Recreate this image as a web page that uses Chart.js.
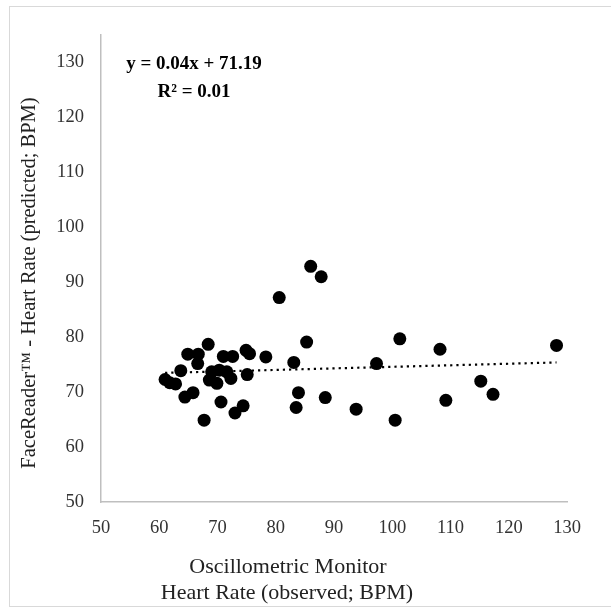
<!DOCTYPE html>
<html>
<head>
<meta charset="utf-8">
<script src="https://cdn.jsdelivr.net/npm/chart.js@4"></script>
<style>
  html, body { margin: 0; padding: 0; background: #fff; }
  #wrap { width: 611px; height: 615px; position: relative; }
</style>
</head>
<body>
<div id="wrap"><canvas id="c" width="611" height="615"></canvas></div>
<script>
// Observed heart rate (oscillometric monitor, BPM)
const observedHR = [61.0, 61.8, 62.8, 63.7, 64.4, 65.8, 64.9, 66.7, 66.6, 67.7,
  68.4, 69.0, 70.3, 68.6, 69.9, 70.6, 71.0, 71.6, 72.3, 72.6,
  73.0, 74.4, 74.9, 75.5, 75.1, 78.3, 80.6, 83.1, 83.5, 83.9,
  85.3, 86.0, 87.8, 88.5, 93.8, 97.3, 100.5, 101.3, 108.2, 109.2,
  115.2, 117.3, 128.2];
// Predicted heart rate (FaceReader, BPM)
const predictedHR = [72.3, 71.7, 71.5, 73.9, 69.1, 69.9, 76.9, 76.9, 75.2, 64.9,
  78.7, 73.7, 74.0, 72.2, 71.6, 68.2, 76.5, 73.7, 72.5, 76.5,
  66.2, 67.5, 77.6, 77.0, 73.2, 76.4, 87.2, 75.4, 67.2, 69.9,
  79.1, 92.9, 91.0, 69.0, 66.9, 75.2, 64.9, 79.7, 77.8, 68.5,
  72.0, 69.6, 78.5];
// Linear trend line end points
const trendX = [61.0, 128.2];
const trendY = [73.5, 75.4];
// Axis ticks
const xTicks = [50, 60, 70, 80, 90, 100, 110, 120, 130];
const yTicks = [50, 60, 70, 80, 90, 100, 110, 120, 130];
const equationText = 'y = 0.04x + 71.19';
const r2Text = 'R² = 0.01';
const xTitleLines = ['Oscillometric Monitor', 'Heart Rate (observed; BPM)'];
const yTitleText = 'FaceReader™ - Heart Rate (predicted; BPM)';

const points = observedHR.map((x, i) => ({ x: x, y: predictedHR[i] }));
const trend = trendX.map((x, i) => ({ x: x, y: trendY[i] }));

const SERIF = '"Liberation Serif", "DejaVu Serif", serif';

const decor = {
  id: 'decor',
  beforeDraw(chart) {
    const ctx = chart.ctx;
    ctx.save();
    ctx.fillStyle = '#ffffff';
    ctx.fillRect(0, 0, chart.width, chart.height);
    ctx.strokeStyle = '#d9d9d9';
    ctx.lineWidth = 1;
    ctx.strokeRect(9.5, 6.5, 610, 600);
    ctx.restore();
  },
  afterDraw(chart) {
    const ctx = chart.ctx;
    ctx.save();
    ctx.fillStyle = '#222';
    ctx.textAlign = 'center';
    ctx.textBaseline = 'middle';
    ctx.font = '22px ' + SERIF;
    ctx.fillText(xTitleLines[0], 288, 567);
    ctx.fillText(xTitleLines[1], 287, 593);
    ctx.save();
    ctx.translate(30, 283);
    ctx.rotate(-Math.PI / 2);
    ctx.font = '20.5px ' + SERIF;
    ctx.fillText(yTitleText, 0, 0);
    ctx.restore();
    ctx.fillStyle = '#000';
    ctx.font = 'bold 19px ' + SERIF;
    ctx.fillText(equationText, 194, 64);
    ctx.fillText(r2Text, 194, 92);
    ctx.restore();
  }
};

new Chart(document.getElementById('c'), {
  type: 'scatter',
  data: {
    datasets: [
      {
        label: 'trend',
        data: trend,
        showLine: true,
        borderColor: '#000',
        borderWidth: 2.2,
        borderDash: [2.2, 4],
        pointRadius: 0,
        fill: false,
        order: 2
      },
      {
        label: 'HR',
        data: points,
        backgroundColor: '#000',
        borderColor: '#000',
        borderWidth: 0,
        pointRadius: 6.5,
        order: 1
      }
    ]
  },
  options: {
    responsive: false,
    animation: false,
    devicePixelRatio: 1,
    layout: { padding: { left: 0, right: 44, top: 35, bottom: 0 } },
    plugins: { legend: { display: false }, tooltip: { enabled: false } },
    scales: {
      x: {
        type: 'linear',
        min: 50, max: 130,
        afterBuildTicks(scale) { scale.ticks = xTicks.map(v => ({ value: v })); },
        afterFit(scale) { scale.height = 113; },
        grid: { display: false, drawTicks: false },
        border: { color: '#bfbfbf', width: 1.5 },
        ticks: { padding: 15, color: '#333', font: { family: SERIF, size: 18.5 } }
      },
      y: {
        type: 'linear',
        min: 50, max: 135,
        afterBuildTicks(scale) { scale.ticks = yTicks.map(v => ({ value: v })); },
        afterFit(scale) { scale.width = 101; },
        grid: { display: false, drawTicks: false },
        border: { color: '#bfbfbf', width: 1.5 },
        ticks: { padding: 17, color: '#333', font: { family: SERIF, size: 18.5 } }
      }
    }
  },
  plugins: [decor]
});
</script>
</body>
</html>
